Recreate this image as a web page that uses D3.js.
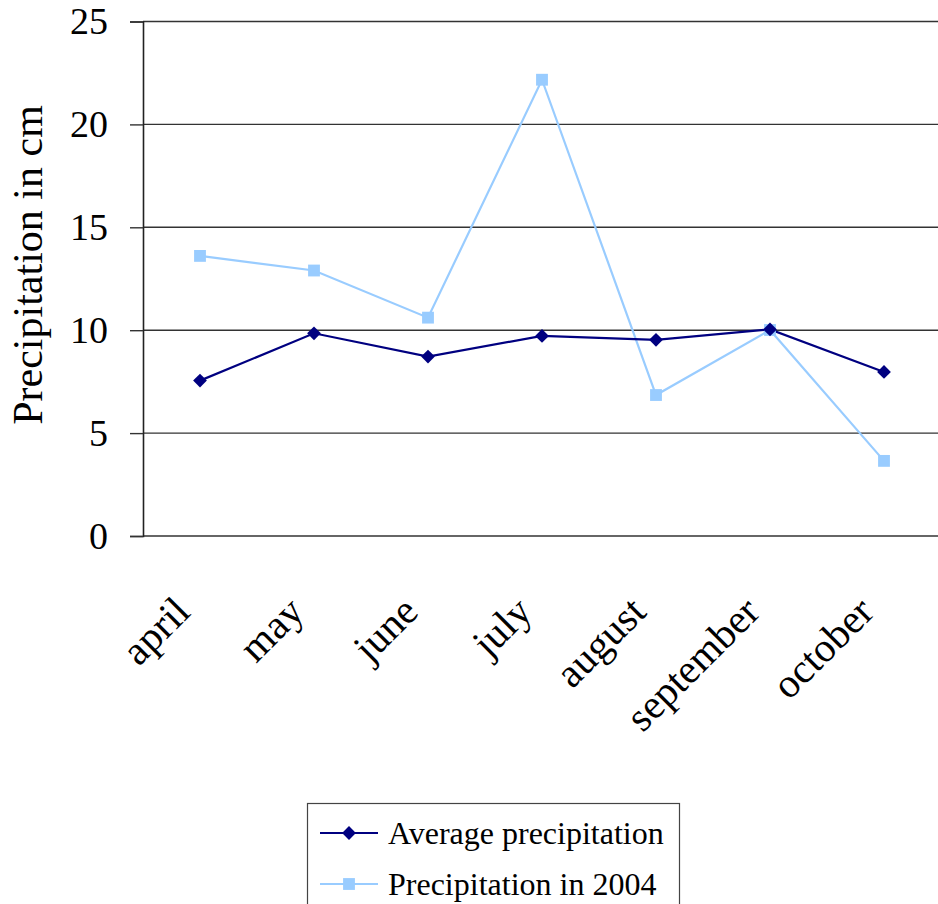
<!DOCTYPE html>
<html>
<head>
<meta charset="utf-8">
<script src="https://cdn.jsdelivr.net/npm/d3@7"></script>
<style>
  html, body { margin: 0; padding: 0; background: #fff; }
  svg { display: block; }
  svg text { font-family: "Liberation Serif", serif; fill: #000; }
</style>
</head>
<body>
<svg id="chart" width="938" height="904"></svg>
<script>
// Monthly precipitation (cm), April to October
const months = ["april", "may", "june", "july", "august", "september", "october"];
const averagePrecip = [7.55, 9.85, 8.72, 9.72, 9.53, 10.04, 7.97];
const precip2004 = [13.61, 12.9, 10.61, 22.17, 6.85, 10.01, 3.65];
const yTicks = [0, 5, 10, 15, 20, 25];
const seriesNames = ["Average precipitation", "Precipitation in 2004"];
const seriesColors = ["#000080", "#99CCFF"];

const SERIF = "Liberation Serif, serif";
const svg = d3.select("#chart");
const plot = { left: 143, top: 21.5, right: 941, bottom: 536 };

const x = d3.scaleBand().domain(months).range([plot.left, plot.right]).padding(0);
const y = d3.scaleLinear().domain([0, 25]).range([plot.bottom, plot.top]);

// Horizontal gridlines
svg.append("g")
  .selectAll("line")
  .data(yTicks)
  .join("line")
  .attr("x1", plot.left)
  .attr("x2", plot.right)
  .attr("y1", d => y(d))
  .attr("y2", d => y(d))
  .attr("stroke", "#333")
  .attr("stroke-width", 1.4);

// Y axis with outward ticks
const yAxis = svg.append("g")
  .attr("transform", `translate(${plot.left},0)`)
  .call(d3.axisLeft(y).tickValues(yTicks).tickSize(13).tickPadding(22))
  .attr("font-family", SERIF)
  .attr("font-size", 38);
yAxis.select(".domain").attr("stroke", "#222").attr("stroke-width", 1.6);
yAxis.selectAll(".tick line").attr("stroke", "#333").attr("stroke-width", 1.4);
yAxis.selectAll(".tick text").attr("fill", "#000");

// Y axis title
svg.append("text")
  .attr("transform", `translate(42,265) rotate(-90)`)
  .attr("text-anchor", "middle")
  .attr("font-family", SERIF)
  .attr("font-size", 42)
  .text("Precipitation in cm");

// Category labels, rotated
const xAxis = svg.append("g")
  .attr("transform", `translate(0,${plot.bottom})`)
  .call(d3.axisBottom(x).tickSize(0).tickPadding(0))
  .attr("font-family", SERIF)
  .attr("font-size", 41);
xAxis.select(".domain").remove();
xAxis.selectAll(".tick text")
  .attr("fill", "#000")
  .attr("text-anchor", "end")
  .attr("dy", 0)
  .attr("transform", "translate(-8,78) rotate(-45)");

const cx = d => x(d) + x.bandwidth() / 2;
const line = d3.line().x(d => cx(d.m)).y(d => y(d.v));

const seriesData = [averagePrecip, precip2004].map(vals =>
  months.map((m, i) => ({ m, v: vals[i] }))
);

// 2004 series drawn first, average on top
[1, 0].forEach(s => {
  svg.append("path")
    .datum(seriesData[s])
    .attr("fill", "none")
    .attr("stroke", seriesColors[s])
    .attr("stroke-width", 2.2)
    .attr("d", line);
});

const square = d3.symbol().type(d3.symbolSquare).size(140);
const diamond = d3.symbol().type(d3.symbolSquare).size(95);

svg.append("g").selectAll("path")
  .data(seriesData[1])
  .join("path")
  .attr("d", square)
  .attr("transform", d => `translate(${cx(d.m)},${y(d.v)})`)
  .attr("fill", seriesColors[1]);

svg.append("g").selectAll("path")
  .data(seriesData[0])
  .join("path")
  .attr("d", diamond)
  .attr("transform", d => `translate(${cx(d.m)},${y(d.v)}) rotate(45)`)
  .attr("fill", seriesColors[0]);

// Legend
const legend = svg.append("g");
legend.append("rect")
  .attr("x", 307.5).attr("y", 803.5)
  .attr("width", 372).attr("height", 140)
  .attr("fill", "#fff")
  .attr("stroke", "#444").attr("stroke-width", 1.2);

const legendRows = [833, 884];
seriesNames.forEach((name, i) => {
  const g = legend.append("g").attr("transform", `translate(0,${legendRows[i]})`);
  g.append("line")
    .attr("x1", 320).attr("x2", 378)
    .attr("stroke", seriesColors[i]).attr("stroke-width", 2.2);
  g.append("path")
    .attr("d", i === 0 ? diamond : square)
    .attr("transform", i === 0 ? "translate(349,0) rotate(45)" : "translate(349,0)")
    .attr("fill", seriesColors[i]);
  g.append("text")
    .attr("x", 388).attr("y", 0)
    .attr("dy", "0.35em")
    .attr("font-family", SERIF)
    .attr("font-size", 32)
    .text(name);
});
</script>
</body>
</html>
